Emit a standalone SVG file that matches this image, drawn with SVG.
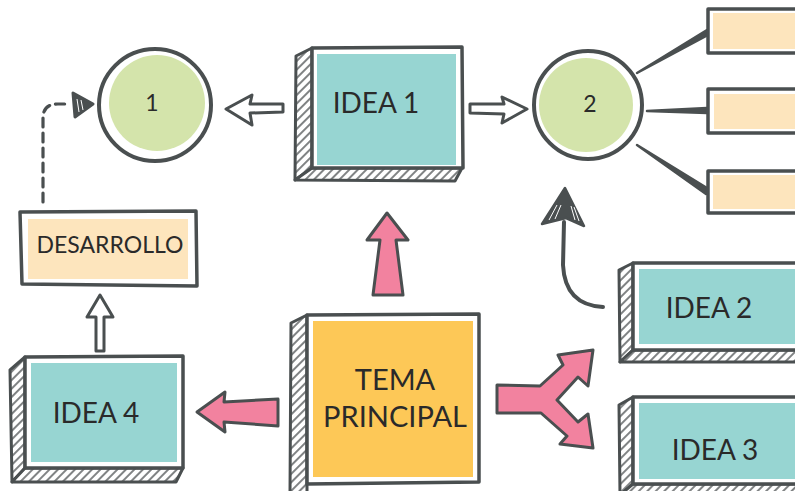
<svg xmlns="http://www.w3.org/2000/svg" width="795" height="491" viewBox="0 0 795 491">
<style>
.face{fill:#fff;stroke:#4a4f50;stroke-width:3.5;stroke-linejoin:round}
.side{fill:url(#hatch);stroke:#4a4f50;stroke-width:3;stroke-linejoin:round}
.teal{fill:#97d5d2}
.yel{fill:#fdc857}
.org{fill:#fde5bd}
.grn{fill:#d4e4ab}
.pink{fill:#f2829f;stroke:#4a4f50;stroke-width:3;stroke-linejoin:round}
.open{fill:#fff;stroke:#4a4f50;stroke-width:3;stroke-linejoin:round}
text{font-family:Lato,"Open Sans","Liberation Sans",sans-serif;font-weight:400;fill:#2a2a2a;text-anchor:middle}
</style>
<defs>
<pattern id="hatch" width="6" height="6" patternUnits="userSpaceOnUse" patternTransform="rotate(45)">
<rect width="6" height="6" fill="#fff"/>
<line x1="1" y1="0" x2="1" y2="6" stroke="#4a4f50" stroke-width="1.4"/>
</pattern>
</defs>
<rect width="795" height="491" fill="#fff"/>

<g id="connectors">
<path class="open" d="M226,109 L252,95 L250,104 L283,104 L283,112 L250,113 L252,125 Z"/>
<path class="open" d="M527,109 L502,97 L504,104 L470,104 L470,113 L504,114 L502,123 Z"/>
<path d="M637,73 L707,30 L708,35 Z" fill="#4a4f50" stroke="#4a4f50" stroke-width="2.5" stroke-linejoin="round"/>
<path d="M647,111 L707,108 L707,113 Z" fill="#4a4f50" stroke="#4a4f50" stroke-width="2.5" stroke-linejoin="round"/>
<path d="M637,145 L707,188 L706,194 Z" fill="#4a4f50" stroke="#4a4f50" stroke-width="2.5" stroke-linejoin="round"/>
<path class="pink" d="M387,213 L408,240 L396,240 L403,295 L373,295 L380,240 L367,240 Z"/>
<path class="pink" d="M197,412 L225,392 L224,402 L278,399 L278,426 L224,422 L225,432 Z"/>
<path class="pink" d="M497,385 L540,386 L563,365 L558,355 L593,350 L588,386 L578,377 L557,400 L578,422 L588,414 L593,448 L560,444 L567,436 L541,413 L497,413 Z"/>
<path class="open" d="M100,295 L113,317 L104,317 L104,351 L96,351 L96,317 L87,317 Z"/>
<path d="M43,202 L43,118 Q43,104 58,104 L70,104" fill="none" stroke="#4a4f50" stroke-width="3.2" stroke-dasharray="9,6" stroke-linecap="round"/>
<path d="M93,104 L73,93 L75,117 Z" fill="#4a4f50" stroke="#4a4f50" stroke-width="3" stroke-linejoin="round"/>
<path d="M77,99 L79,112 M81,100 L83,110" stroke="#fff" stroke-width="1"/>
<path d="M603,307 Q565,305 563,265 L564,222" fill="none" stroke="#4a4f50" stroke-width="4" stroke-linecap="round"/>
<path d="M565,188 L584,226 L566,218 L542,224 Z" fill="#4a4f50" stroke="#4a4f50" stroke-width="2.5" stroke-linejoin="round"/>
<path d="M557,205 L549,220 M561,205 L555,219 M571,206 L575,220 M574,207 L579,221" stroke="#fff" stroke-width="1"/>
</g>

<g id="circle1">
<circle cx="155" cy="105" r="56" fill="#fff" stroke="#4a4f50" stroke-width="4"/>
<circle class="grn" cx="157" cy="103" r="48"/>
<text x="152" y="111" font-size="23">1</text>
</g>

<g id="circle2">
<circle cx="588" cy="105" r="54" fill="#fff" stroke="#4a4f50" stroke-width="4"/>
<circle class="grn" cx="586" cy="105" r="47"/>
<text x="590" y="112" font-size="23">2</text>
</g>

<g id="idea1">
<path class="side" d="M312,48 L296,56 L295,180 L312,168 Z"/>
<path class="side" d="M312,168 L295,180 L455,181 L462,168 Z"/>
<path class="face" d="M312,48 L462,47 L463,168 L312,168 Z"/>
<rect class="teal" x="317" y="54" width="139" height="111"/>
<text x="376" y="113" font-size="28">IDEA 1</text>
</g>

<g id="tema">
<path class="side" d="M307,315 L291,323 L290,495 L307,495 Z"/>
<path class="face" d="M307,315 L479,314 L479,482 L307,484 Z"/>
<rect class="yel" x="313" y="321" width="160" height="156"/>
<text x="395" y="390" font-size="29">TEMA</text>
<text x="395" y="427" font-size="29">PRINCIPAL</text>
</g>

<g id="desarrollo">
<path class="face" d="M20,212 L196,211 L197,286 L22,284 Z"/>
<rect class="org" x="28" y="219" width="160" height="60"/>
<text x="110" y="253" font-size="23">DESARROLLO</text>
</g>

<g id="idea4">
<path class="side" d="M25,357 L10,370 L12,482 L25,468 Z"/>
<path class="side" d="M25,468 L12,482 L176,482 L183,468 Z"/>
<path class="face" d="M25,357 L183,356 L183,468 L25,468 Z"/>
<rect class="teal" x="31" y="363" width="146" height="99"/>
<text x="96" y="423" font-size="28">IDEA 4</text>
</g>

<g id="idea2">
<path class="side" d="M633,263 L619,270 L620,362 L633,350 Z"/>
<path class="side" d="M633,350 L620,362 L800,362 L800,350 Z"/>
<path class="face" d="M633,263 L800,263 L800,350 L633,350 Z"/>
<rect class="teal" x="639" y="269" width="160" height="75"/>
<text x="709" y="318" font-size="28">IDEA 2</text>
</g>

<g id="idea3">
<path class="side" d="M633,397 L619,405 L620,495 L633,484 Z"/>
<path class="side" d="M633,484 L620,495 L800,495 L800,484 Z"/>
<path class="face" d="M633,397 L800,397 L800,484 L633,484 Z"/>
<rect class="teal" x="639" y="403" width="160" height="76"/>
<text x="715" y="460" font-size="28">IDEA 3</text>
</g>

<g id="box-a">
<path class="face" d="M708,9 L800,9 L800,53 L708,53 Z"/>
<rect class="org" x="713" y="13" width="90" height="36"/>
</g>
<g id="box-b">
<path class="face" d="M708,89 L800,89 L800,133 L708,133 Z"/>
<rect class="org" x="714" y="94" width="90" height="35"/>
</g>
<g id="box-c">
<path class="face" d="M708,171 L800,171 L800,213 L708,213 Z"/>
<rect class="org" x="713" y="175" width="90" height="34"/>
</g>
</svg>
